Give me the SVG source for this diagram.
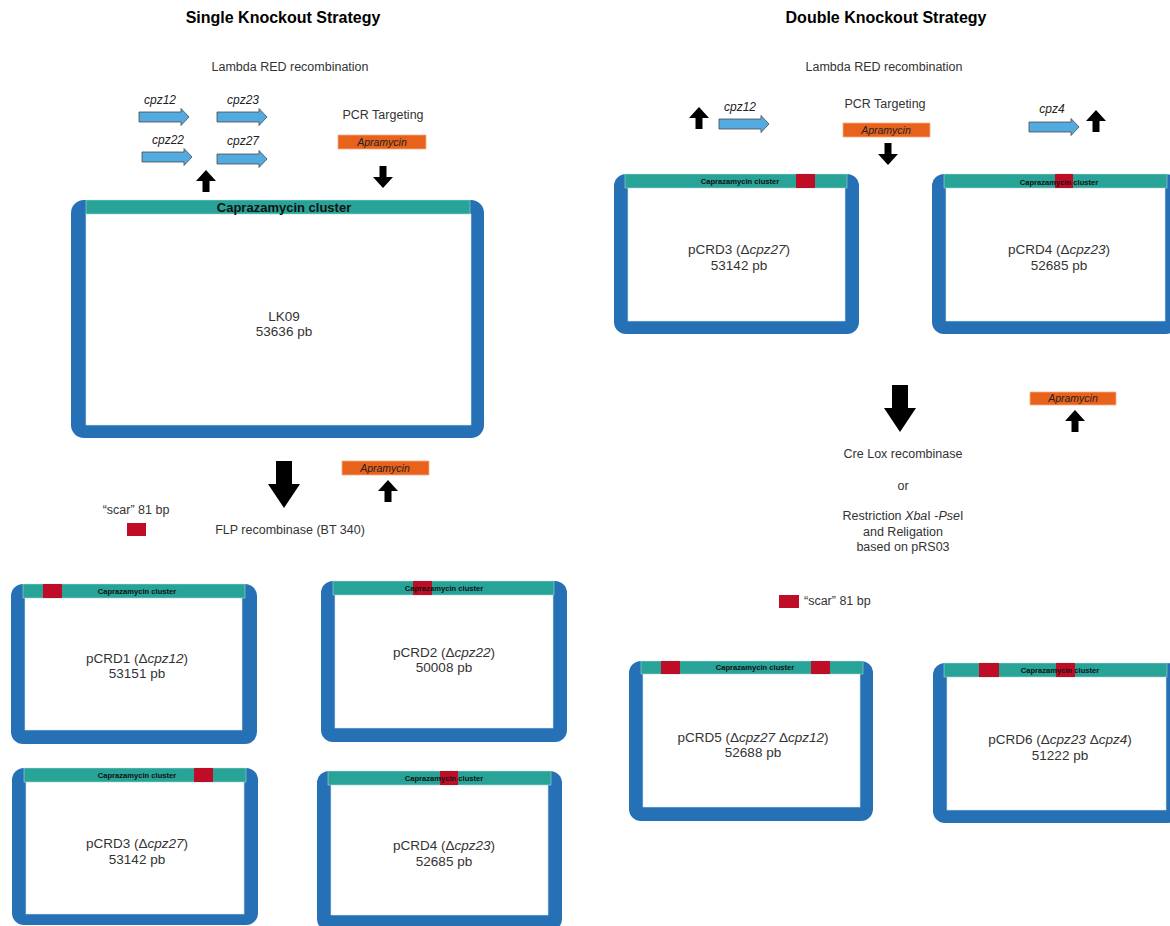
<svg xmlns="http://www.w3.org/2000/svg" xmlns:xlink="http://www.w3.org/1999/xlink" width="1170" height="926" viewBox="0 0 1170 926">
<style>
text{font-family:"Liberation Sans",Arial,Helvetica,sans-serif;fill:#333}
.title{font-size:16px;font-weight:bold;fill:#000;text-anchor:middle}
.sub{font-size:12.5px;text-anchor:middle}
.lbl{font-size:13.5px;text-anchor:middle}
.gene{font-size:12px;font-style:italic;fill:#222;text-anchor:middle}
.apra{font-size:10.5px;font-style:italic;fill:#222;text-anchor:middle}
.clus{font-size:7.6px;font-weight:bold;fill:#111;text-anchor:middle}
.clusL{font-size:13px;font-weight:bold;fill:#111;text-anchor:middle}
.it{font-style:italic}
.frame{fill:#2671b6}
.inner{fill:#fff;stroke:#d5e2ee;stroke-width:0.6}
.bar{fill:#27a397;stroke:#bfe3de;stroke-width:0.5}
.scar{fill:#bf0d27}
.apr{fill:#e9621b;stroke:#f4b08a;stroke-width:0.8}
.ga{fill:#52aadf;stroke:#4a4a4a;stroke-width:0.8}
.blk{fill:#000}
</style>
<defs>
<polygon id="up" points="0,0 10,11 3.5,11 3.5,22 -3.5,22 -3.5,11 -10,11"/>
<polygon id="down" points="0,22 10,11 3.5,11 3.5,0 -3.5,0 -3.5,11 -10,11"/>
<polygon id="bigdown" points="-8,0 8,0 8,23 16,23 0,47 -16,23 -8,23"/>
<polygon id="gene" points="0,-5 42,-5 42,-8.5 50,0 42,8.5 42,5 0,5"/>
</defs>
<rect width="1170" height="926" fill="#fff"/>

<g id="titles">
<text class="title" x="283" y="23">Single Knockout Strategy</text>
<text class="title" x="886" y="23">Double Knockout Strategy</text>
<text class="sub" x="290" y="71">Lambda RED recombination</text>
<text class="sub" x="884" y="71">Lambda RED recombination</text>
</g>

<g id="genes-left">
<use href="#gene" class="ga" x="139" y="117"/>
<text class="gene" x="160" y="104">cpz12</text>
<use href="#gene" class="ga" x="217" y="117"/>
<text class="gene" x="243" y="104">cpz23</text>
<use href="#gene" class="ga" x="142" y="157"/>
<text class="gene" x="168" y="144">cpz22</text>
<use href="#gene" class="ga" x="217" y="159"/>
<text class="gene" x="243" y="145">cpz27</text>
</g>

<g id="pcr-left">
<text class="sub" x="383" y="119">PCR Targeting</text>
<rect class="apr" x="338" y="135" width="88" height="14"/>
<text class="apra" x="382" y="146">Apramycin</text>
</g>

<g id="lk09">
<rect class="frame" x="71" y="200" width="413" height="238" rx="13"/>
<rect class="inner" x="86" y="214" width="385" height="211"/>
<rect class="bar" x="86" y="200" width="384" height="14"/>
<text class="clusL" x="284" y="212">Caprazamycin cluster</text>
<text class="lbl" x="284" y="321">LK09</text>
<text class="lbl" x="284" y="336">53636 pb</text>
</g>

<g id="flp-step">
<rect class="apr" x="342" y="461" width="87" height="14"/>
<text class="apra" x="385" y="472">Apramycin</text>
<text class="sub" x="290" y="534">FLP recombinase (BT 340)</text>
</g>

<g id="scar-legend-left">
<text class="sub" x="136" y="514">“scar” 81 bp</text>
<rect class="scar" x="127" y="523" width="19" height="13"/>
</g>

<g id="pcrd1">
<rect class="frame" x="11" y="584" width="246" height="160" rx="12"/>
<rect class="inner" x="25" y="598" width="217" height="132"/>
<rect class="bar" x="23" y="584" width="222" height="14"/>
<rect class="scar" x="43" y="584" width="19" height="14"/>
<text class="clus" x="137" y="594">Caprazamycin cluster</text>
<text class="lbl" x="137" y="663">pCRD1 (Δ<tspan class="it">cpz12</tspan>)</text>
<text class="lbl" x="137" y="678">53151 pb</text>
</g>

<g id="pcrd2">
<rect class="frame" x="321" y="581" width="246" height="161" rx="12"/>
<rect class="inner" x="335" y="595" width="218" height="133"/>
<rect class="bar" x="333" y="581" width="221" height="14"/>
<rect class="scar" x="413" y="581" width="19" height="14"/>
<text class="clus" x="444" y="591">Caprazamycin cluster</text>
<text class="lbl" x="444" y="657">pCRD2 (Δ<tspan class="it">cpz22</tspan>)</text>
<text class="lbl" x="444" y="672">50008 pb</text>
</g>

<g id="pcrd3-left">
<rect class="frame" x="12" y="768" width="246" height="157" rx="12"/>
<rect class="inner" x="26" y="782" width="218" height="132"/>
<rect class="bar" x="24" y="768" width="222" height="14"/>
<rect class="scar" x="194" y="768" width="19" height="14"/>
<text class="clus" x="137" y="778">Caprazamycin cluster</text>
<text class="lbl" x="137" y="848">pCRD3 (Δ<tspan class="it">cpz27</tspan>)</text>
<text class="lbl" x="137" y="864">53142 pb</text>
</g>

<g id="pcrd4-left">
<rect class="frame" x="317" y="771" width="245" height="160" rx="12"/>
<rect class="inner" x="331" y="785" width="217" height="130"/>
<rect class="bar" x="328" y="771" width="223" height="14"/>
<rect class="scar" x="440" y="771" width="18" height="14"/>
<text class="clus" x="444" y="781">Caprazamycin cluster</text>
<text class="lbl" x="444" y="850">pCRD4 (Δ<tspan class="it">cpz23</tspan>)</text>
<text class="lbl" x="444" y="866">52685 pb</text>
</g>

<g id="genes-right">
<use href="#gene" class="ga" x="719" y="124"/>
<text class="gene" x="740" y="111">cpz12</text>
<use href="#gene" class="ga" x="1029" y="127"/>
<text class="gene" x="1052" y="113">cpz4</text>
</g>

<g id="pcr-right">
<text class="sub" x="885" y="108">PCR Targeting</text>
<rect class="apr" x="843" y="123" width="87" height="14"/>
<text class="apra" x="886" y="134">Apramycin</text>
</g>

<g id="pcrd3-right">
<rect class="frame" x="614" y="174" width="245" height="160" rx="12"/>
<rect class="inner" x="628" y="188" width="217" height="133"/>
<rect class="bar" x="625" y="174" width="222" height="14"/>
<rect class="scar" x="796" y="174" width="19" height="14"/>
<text class="clus" x="740" y="184">Caprazamycin cluster</text>
<text class="lbl" x="739" y="254">pCRD3 (Δ<tspan class="it">cpz27</tspan>)</text>
<text class="lbl" x="739" y="270">53142 pb</text>
</g>

<g id="pcrd4-right">
<rect class="frame" x="932" y="174" width="246" height="160" rx="12"/>
<rect class="inner" x="946" y="188" width="219" height="133"/>
<rect class="bar" x="944" y="174" width="223" height="14"/>
<rect class="scar" x="1055" y="174" width="18" height="14"/>
<text class="clus" x="1059" y="185">Caprazamycin cluster</text>
<text class="lbl" x="1059" y="254">pCRD4 (Δ<tspan class="it">cpz23</tspan>)</text>
<text class="lbl" x="1059" y="270">52685 pb</text>
</g>

<g id="cre-step">
<rect class="apr" x="1030" y="392" width="86" height="13"/>
<text class="apra" x="1073" y="402">Apramycin</text>
<text class="sub" x="903" y="458">Cre Lox recombinase</text>
<text class="sub" x="903" y="490">or</text>
<text class="sub" x="903" y="520">Restriction <tspan class="it">Xba</tspan>I -<tspan class="it">Pse</tspan>I</text>
<text class="sub" x="903" y="536">and Religation</text>
<text class="sub" x="903" y="551">based on pRS03</text>
</g>

<g id="scar-legend-right">
<rect class="scar" x="779" y="595" width="20" height="13"/>
<text class="sub" x="804" y="605" style="text-anchor:start">“scar” 81 bp</text>
</g>

<g id="pcrd5">
<rect class="frame" x="629" y="661" width="244" height="160" rx="12"/>
<rect class="inner" x="643" y="674" width="217" height="133"/>
<rect class="bar" x="641" y="661" width="222" height="13"/>
<rect class="scar" x="661" y="661" width="19" height="13"/>
<rect class="scar" x="811" y="661" width="19" height="13"/>
<text class="clus" x="755" y="670">Caprazamycin cluster</text>
<text class="lbl" x="753" y="742">pCRD5 (Δ<tspan class="it">cpz27</tspan> Δ<tspan class="it">cpz12</tspan>)</text>
<text class="lbl" x="753" y="757">52688 pb</text>
</g>

<g id="pcrd6">
<rect class="frame" x="933" y="663" width="246" height="160" rx="12"/>
<rect class="inner" x="947" y="677" width="219" height="133"/>
<rect class="bar" x="944" y="663" width="223" height="14"/>
<rect class="scar" x="979" y="663" width="20" height="14"/>
<rect class="scar" x="1056" y="663" width="19" height="14"/>
<text class="clus" x="1060" y="673">Caprazamycin cluster</text>
<text class="lbl" x="1060" y="744">pCRD6 (Δ<tspan class="it">cpz23</tspan> Δ<tspan class="it">cpz4</tspan>)</text>
<text class="lbl" x="1060" y="760">51222 pb</text>
</g>

<g id="connectors">
<use href="#up" class="blk" x="206" y="170"/>
<use href="#down" class="blk" x="383" y="166"/>
<use href="#bigdown" class="blk" x="284" y="461"/>
<use href="#up" class="blk" x="388" y="480"/>
<use href="#up" class="blk" x="699" y="107"/>
<use href="#up" class="blk" x="1096" y="110"/>
<use href="#down" class="blk" x="888" y="143"/>
<use href="#bigdown" class="blk" x="900" y="385"/>
<use href="#up" class="blk" x="1075" y="410"/>
</g>
</svg>
